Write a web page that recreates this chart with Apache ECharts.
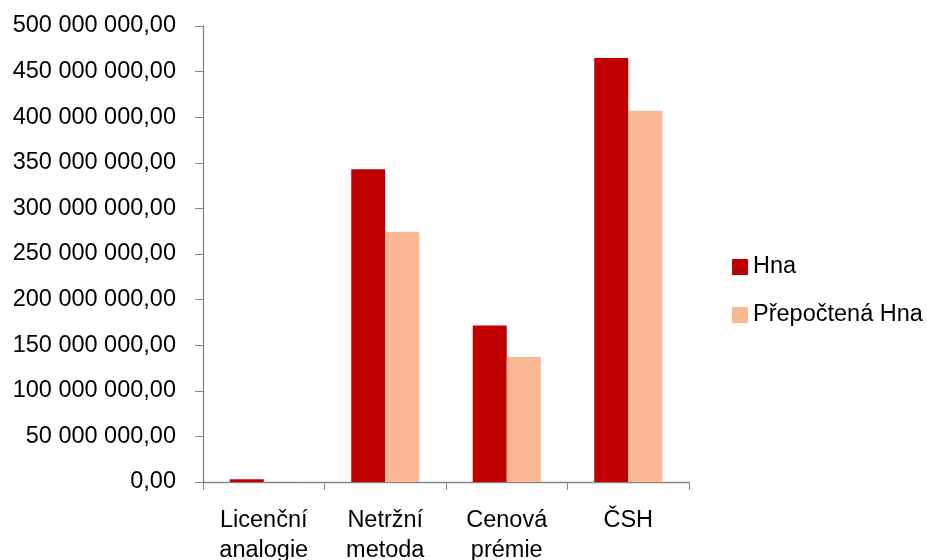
<!DOCTYPE html>
<html>
<head>
<meta charset="utf-8">
<script src="https://cdn.jsdelivr.net/npm/echarts@6/dist/echarts.min.js"></script>
<style>
html,body{margin:0;padding:0;background:#fff;}
#chart{width:927px;height:560px;}
</style>
</head>
<body>
<div id="chart"></div>
<script>
// Categories and values (CZK)
const categories = ['Licenční\nanalogie', 'Netržní\nmetoda', 'Cenová\nprémie', 'ČSH'];
const hna = [3000000, 343000000, 171500000, 465000000];
const prepoctenaHna = [300000, 274500000, 137000000, 407000000];
const seriesNames = ['Hna', 'Přepočtená Hna'];

const FONT = '"Liberation Sans", Arial, sans-serif';
const FONT_SIZE = 23.5;

function formatCz(v) {
  const parts = Math.round(v).toString().replace(/\B(?=(\d{3})+(?!\d))/g, ' ');
  return parts + ',00';
}

const chart = echarts.init(document.getElementById('chart'));
chart.setOption({
  animation: false,
  backgroundColor: '#ffffff',
  grid: { left: 203, right: 238, top: 26, bottom: 78, containLabel: false, outerBoundsMode: 'none' },
  legend: {
    orient: 'vertical',
    left: 727,
    top: 250,
    itemWidth: 16,
    itemHeight: 16,
    itemGap: 24,
    icon: 'rect',
    textStyle: { fontFamily: FONT, fontSize: FONT_SIZE, color: '#000' },
    data: seriesNames
  },
  xAxis: {
    type: 'category',
    data: categories,
    axisLine: { lineStyle: { color: '#868686', width: 1.3 } },
    axisTick: { show: true, length: 8, lineStyle: { color: '#868686' } },
    axisLabel: {
      fontFamily: FONT, fontSize: FONT_SIZE, color: '#000', margin: 24,
      lineHeight: 30, interval: 0
    }
  },
  yAxis: {
    type: 'value',
    min: 0,
    max: 500000000,
    interval: 50000000,
    axisLine: { show: true, lineStyle: { color: '#868686', width: 1.3 } },
    axisTick: { show: true, length: 8, lineStyle: { color: '#868686' } },
    splitLine: { show: false },
    axisLabel: {
      fontFamily: FONT, fontSize: FONT_SIZE, color: '#000', margin: 27,
      formatter: formatCz
    }
  },
  series: [
    {
      name: seriesNames[0],
      type: 'bar',
      data: hna,
      barGap: '0%',
      barCategoryGap: '44%',
      itemStyle: { color: '#c00000' }
    },
    {
      name: seriesNames[1],
      type: 'bar',
      data: prepoctenaHna,
      barGap: '0%',
      barCategoryGap: '44%',
      itemStyle: { color: '#f9b792' }
    }
  ]
});
</script>
</body>
</html>
